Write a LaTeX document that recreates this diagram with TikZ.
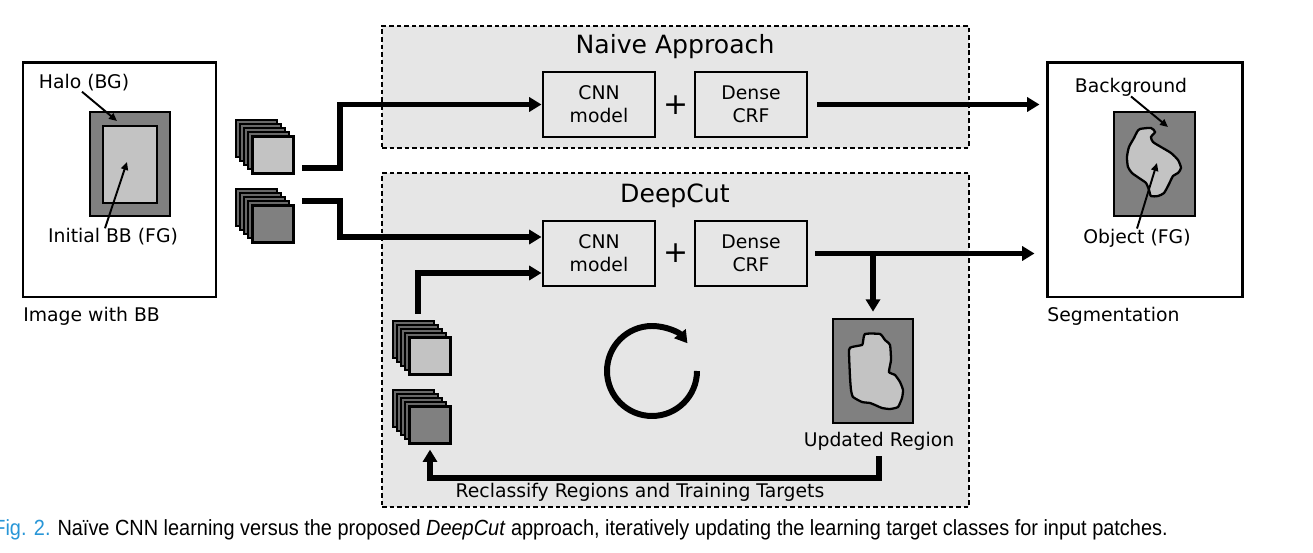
\documentclass[tikz,border=0pt]{standalone}
\usepackage{fontspec}
\setmainfont{DejaVu Sans}
\newfontfamily\capfont{Liberation Sans}
\usepackage{graphicx}
\usetikzlibrary{positioning, arrows.meta, calc}
\definecolor{areagray}{RGB}{230,230,230}
\definecolor{halogray}{RGB}{128,128,128}
\definecolor{fggray}{RGB}{195,195,195}
\definecolor{stackgray}{RGB}{105,105,105}
\definecolor{figblue}{RGB}{40,150,215}
\newdimen\pxu
\pxu=0.02cm
\tikzset{
  frame/.style={draw, line width=1.7pt, fill=white, minimum width=193\pxu,
    minimum height=234\pxu, inner sep=0},
  stage/.style={draw, line width=0.9pt, dash pattern=on 2.6pt off 1.7pt,
    fill=areagray, minimum width=587\pxu, inner sep=0},
  unit/.style={draw, line width=1.7pt, fill=areagray, minimum width=112\pxu,
    minimum height=65\pxu, align=center, inner sep=0, font=\fontsize{10.7}{13}\selectfont},
  patch/.style={draw, line width=1.3pt, minimum width=41\pxu, minimum height=37\pxu, inner sep=0},
  label/.style={inner sep=0, font=\fontsize{10.7}{13}\selectfont},
  title/.style={inner sep=0, font=\fontsize{14.3}{17}\selectfont},
  bigarrow/.style={line width=3.4pt, -{Triangle[length=7pt,width=8pt]}},
  pointer/.style={line width=1.1pt, -{Triangle[length=4.5pt,width=4pt]}}
}

\begin{document}
\begin{tikzpicture}[x=0.02cm, y=-0.02cm]
\useasboundingbox (0,0) rectangle (1313,553);

% input image
\node [frame] (img) at (119.5,180) {};
\draw [line width=1.5pt, fill=halogray] (90,112) rectangle (170,216);
\draw [line width=1.5pt, fill=fggray] (103,126) rectangle (157,203);
\node [label] (halo) at (84,83) {Halo (BG)};
\node [label] (initbb) at (113,237) {Initial BB (FG)};
\coordinate (haloPt) at (117,121);
\coordinate (fgPt) at (127,162);
\draw [pointer] ([xshift=-2\pxu]halo.south) -- (haloPt);
\draw [pointer] ([xshift=-8\pxu]initbb.north) -- (fgPt);
\node [label, anchor=west] (imgcap) at (23,316) {Image with BB};

% the two approaches
\node [stage, minimum height=122\pxu] (naive) at (675.5,87) {};
\node [stage, minimum height=334\pxu] (deepcut) at (675.5,340) {};
\node [title] (naivetitle) at (675,47) {Naive Approach};
\node [title] (deepcuttitle) at (675,196) {DeepCut};

\node [unit] (cnnA) at (599,104.5) {CNN\\model};
\node [unit] (crfA) at (751,104.5) {Dense\\CRF};
\node [label, font=\fontsize{17}{17}\selectfont] (plusA) at (676,105) {+};
\node [unit] (cnnB) at (599,253.5) {CNN\\model};
\node [unit] (crfB) at (751,253.5) {Dense\\CRF};
\node [label, font=\fontsize{17}{17}\selectfont] (plusB) at (676,253) {+};

% patch stacks
\foreach \sx/\sy/\sname/\sfill in {273/155/pA/fggray, 273/224/pB/halogray,
    430/356/pC/fggray, 430/425/pD/halogray}{
  \foreach \k in {4,3,2,1}
    \node [patch, line width=1pt, fill=stackgray] at (\sx-4.2*\k,\sy-4.2*\k) {};
  \node [patch, fill=\sfill] (\sname) at (\sx,\sy) {};
}

% updated region
\node [draw, line width=1.5pt, fill=halogray, minimum width=80\pxu,
  minimum height=104\pxu, inner sep=0] (upd) at (873,371) {};
\draw [line width=1.3pt, fill=fggray] plot [smooth cycle, tension=0.3] coordinates {
  (865,334) (880,334) (885,340) (890,345) (891,360) (889,372) (895,375) (900,382)
  (903,390) (902,398) (898,407) (890,409) (882,408) (875,405) (870,403) (862,402)
  (853,397) (851,390) (850,377) (849,350) (852,347) (862,345) (863,342)};
\node [label] (updcap) at (879,441) {Updated Region};
\node [label] (reclass) at (640,492) {Reclassify Regions and Training Targets};

\coordinate (loop) at (652,371);
\draw [bigarrow] ($(loop)+(45,0)$) arc [start angle=0, end angle=322, radius=45];

% segmentation
\node [frame, minimum width=195\pxu] (seg) at (1144.5,180) {};
\draw [line width=1.5pt, fill=halogray] (1114,112) rectangle (1195,216);
\draw [line width=1.3pt, fill=fggray] plot [smooth cycle, tension=0.4] coordinates {
  (1140,129) (1151,128) (1155,132) (1151,137) (1153,142) (1161,147) (1171,153)
  (1178,160) (1181,168) (1178,173) (1173,176) (1169,184) (1164,193) (1158,196)
  (1151,196) (1149,190) (1146,183) (1139,178) (1132,173) (1128,167) (1127,157)
  (1129,147) (1134,138) (1137,132)};
\node [label] (bg) at (1131,87) {Background};
\node [label] (obj) at (1137,238) {Object (FG)};
\coordinate (bgPt) at (1168,127);
\coordinate (objPt) at (1157,163);
\draw [pointer] (bg.south) -- (bgPt);
\draw [pointer] (obj.north) -- (objPt);
\node [label, anchor=west] (segcap) at (1047,316) {Segmentation};

% connectors
\coordinate (outA) at (302,168);
\coordinate (outB) at (302,201);
\coordinate (outC) at (418,314);
\draw [bigarrow] (outA) -- ++(38,0) |- (cnnA.west);
\draw [bigarrow] (outB) -- ++(38,0) |- ($(cnnB.west)+(0,-16.5)$);
\draw [bigarrow] (outC) |- ($(cnnB.west)+(0,19.5)$);
\draw [bigarrow, shorten <=9\pxu, shorten >=6\pxu] (crfA.east) -- (crfA.east -| seg.west);
\draw [bigarrow, shorten <=7\pxu, shorten >=11\pxu] (crfB.east) -- (crfB.east -| seg.west);
\draw [bigarrow, shorten >=6\pxu] (upd.north |- crfB.east) -- (upd.north);
\draw [bigarrow, shorten <=6\pxu, shorten >=5\pxu] (updcap.south) -- ++(0,28) -| (pD.south);

% caption
\node [anchor=west, inner sep=0] (caption) at (-7,530) {\scalebox{0.907}[1]{\capfont
  \fontsize{12.5}{14}\selectfont\textcolor{figblue}{Fig. 2.}\hspace{0.35em}Naïve CNN learning
  versus the proposed \textit{DeepCut} approach, iteratively updating the learning target
  classes for input patches.}};

\end{tikzpicture}
\end{document}
